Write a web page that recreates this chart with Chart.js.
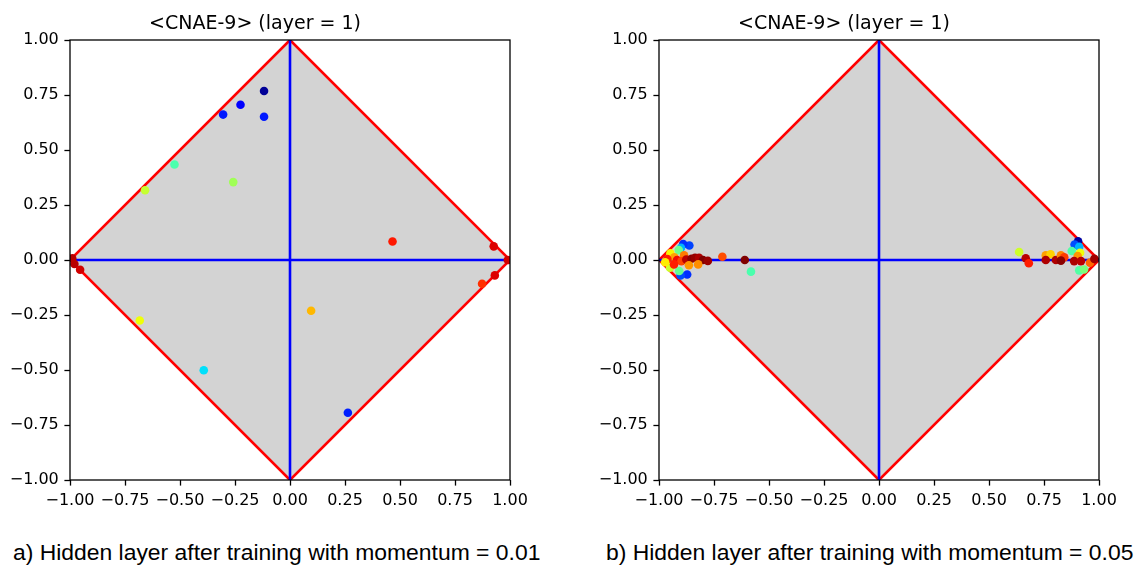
<!DOCTYPE html>
<html>
<head>
<meta charset="utf-8">
<script src="https://cdn.jsdelivr.net/npm/chart.js@4/dist/chart.umd.min.js"></script>
<style>
  html, body { margin: 0; padding: 0; background: #fff; }
  body { width: 1147px; height: 567px; position: relative; overflow: hidden; }
  .panel { position: absolute; top: 0; width: 550px; height: 520px; }
  .caption {
    position: absolute; top: 537px; white-space: nowrap; line-height: 30px;
    font-family: "Liberation Sans", Arial, sans-serif; font-size: 22.9px; color: #000;
  }
</style>
</head>
<body>
<div class="panel" style="left:0px"><canvas id="chartA"></canvas></div>
<div class="panel" style="left:589px"><canvas id="chartB"></canvas></div>
<div class="caption" style="left:13px">a) Hidden layer after training with momentum = 0.01</div>
<div class="caption" style="left:606px">b) Hidden layer after training with momentum = 0.05</div>
<script>
// Hidden-unit activations of the CNAE-9 network (layer 1), one point per sample.
// *_c is the colour value of each sample, mapped through the jet colormap.
const titleText = '<CNAE-9> (layer = 1)';
const tickValues = [-1, -0.75, -0.5, -0.25, 0, 0.25, 0.5, 0.75, 1];

// Region boundary |x| + |y| = 1 and the two axes through the origin
const diamondX = [0, 1, 0, -1, 0];
const diamondY = [1, 0, -1, 0, 1];
const hAxisX = [-1, 1], hAxisY = [0, 0];
const vAxisX = [0, 0], vAxisY = [-1, 1];

// momentum = 0.01
const a_x = [-0.118, -0.225, -0.304, -0.118, -0.525, -0.659, -0.258, 0.466, 0.926, 0.931,
             0.873, 0.096, -0.683, -0.392, 0.263, 0.990, -0.990, -0.980, -0.954];
const a_y = [0.768, 0.706, 0.661, 0.651, 0.434, 0.317, 0.354, 0.084, 0.062, -0.070,
             -0.108, -0.231, -0.275, -0.501, -0.694, 0.000, 0.008, -0.018, -0.044];
const a_c = [0.02, 0.11, 0.15, 0.15, 0.44, 0.59, 0.545, 0.885, 0.92, 0.92,
             0.86, 0.715, 0.64, 0.345, 0.155, 0.93, 0.95, 0.95, 0.93];

// momentum = 0.05
const b_x = [-0.862, -0.890, -0.900, -0.910, -0.948, -0.886, -0.930, -0.962, -0.918, -0.898,
             -0.876, -0.852, -0.836, -0.818, -0.800, -0.778, -0.712, -0.610, -0.582, -0.872,
             -0.902, -0.908, -0.950, -0.864, -0.822, -0.932, -0.972,
             0.637, 0.667, 0.681, 0.758, 0.780, 0.758, 0.804, 0.827, 0.842, 0.827,
             0.905, 0.889, 0.910, 0.876, 0.914, 0.903, 0.887, 0.918, 0.910, 0.932,
             0.959, 0.979];
const b_y = [0.066, 0.072, 0.056, 0.045, 0.030, 0.021, 0.012, 0.004, 0.000, -0.006,
             0.002, 0.006, 0.010, 0.010, 0.000, -0.004, 0.015, 0.000, -0.053, -0.066,
             -0.070, -0.050, -0.035, -0.024, -0.020, -0.020, -0.010,
             0.036, 0.008, -0.015, 0.021, 0.026, 0.000, 0.000, 0.021, 0.012, -0.003,
             0.085, 0.070, 0.060, 0.041, 0.033, 0.018, -0.005, -0.005, -0.047, -0.043,
             -0.012, 0.005];
const b_c = [0.19, 0.17, 0.30, 0.48, 0.65, 0.78, 0.74, 0.88, 0.90, 0.84,
             0.95, 0.99, 0.98, 0.96, 1.00, 0.98, 0.83, 1.00, 0.44, 0.17,
             0.20, 0.47, 0.60, 0.75, 0.76, 0.88, 0.66,
             0.60, 0.95, 0.88, 0.74, 0.69, 0.96, 0.96, 0.77, 0.85, 0.99,
             0.03, 0.20, 0.30, 0.45, 0.64, 0.75, 0.96, 0.95, 0.45, 0.50,
             0.80, 0.97];

// matplotlib "jet" segment data
function interp(segs, v) {
  for (let i = 1; i < segs.length; i++) {
    if (v <= segs[i][0]) {
      const [x0, y0] = segs[i - 1], [x1, y1] = segs[i];
      return y0 + (y1 - y0) * (v - x0) / (x1 - x0);
    }
  }
  return segs[segs.length - 1][1];
}
function jet(v) {
  v = Math.max(0, Math.min(1, v));
  const r = interp([[0, 0], [0.35, 0], [0.66, 1], [0.89, 1], [1, 0.5]], v);
  const g = interp([[0, 0], [0.125, 0], [0.375, 1], [0.64, 1], [0.91, 0], [1, 0]], v);
  const b = interp([[0, 0.5], [0.11, 1], [0.34, 1], [0.65, 0], [1, 0]], v);
  return `rgb(${Math.round(r * 255)},${Math.round(g * 255)},${Math.round(b * 255)})`;
}

const pts = (xs, ys) => xs.map((x, i) => ({ x, y: ys[i] }));
const fmt = v => (v < 0 ? '\u2212' : '') + Math.abs(v).toFixed(2);

// Full box frame drawn over the plot area
const framePlugin = {
  id: 'frame',
  afterDatasetsDraw(chart) {
    const { ctx, chartArea: a } = chart;
    ctx.save();
    ctx.strokeStyle = '#000';
    ctx.lineWidth = 1.3;
    ctx.strokeRect(a.left, a.top, a.right - a.left, a.bottom - a.top);
    ctx.restore();
  }
};

function axisOptions(isX) {
  return {
    type: 'linear', min: -1, max: 1,
    position: isX ? 'bottom' : 'left',
    afterBuildTicks: s => { s.ticks = tickValues.map(v => ({ value: v })); },
    afterFit: s => { if (isX) s.height = 40; else s.width = 70; },
    grid: { drawOnChartArea: false, drawTicks: true, tickLength: 5.6, tickWidth: 1.3, tickColor: '#000' },
    border: { display: false },
    ticks: {
      callback: v => fmt(v), color: '#000', padding: 5.6,
      font: { family: 'DejaVu Sans', size: 16 }, maxRotation: 0, autoSkip: false
    }
  };
}

function makeChart(id, xs, ys, cs) {
  new Chart(document.getElementById(id), {
    type: 'scatter',
    data: {
      datasets: [
        {
          data: pts(xs, ys),
          pointRadius: 4.3, pointHoverRadius: 4.3, pointBorderWidth: 0,
          pointBackgroundColor: cs.map(jet), showLine: false
        },
        {
          data: pts(hAxisX, hAxisY), showLine: true, pointRadius: 0,
          borderColor: '#0000ff', borderWidth: 2.6, fill: false
        },
        {
          data: pts(vAxisX, vAxisY), showLine: true, pointRadius: 0,
          borderColor: '#0000ff', borderWidth: 2.6, fill: false
        },
        {
          data: pts(diamondX, diamondY), showLine: true, pointRadius: 0,
          borderColor: '#ff0000', borderWidth: 2.6,
          backgroundColor: '#d3d3d3', fill: 'shape'
        }
      ]
    },
    options: {
      responsive: true, maintainAspectRatio: false, animation: false,
      layout: { padding: { left: 0, right: 40, top: 0, bottom: 0 } },
      scales: { x: axisOptions(true), y: axisOptions(false) },
      plugins: {
        legend: { display: false },
        tooltip: { enabled: false },
        title: {
          display: true, text: titleText, color: '#000',
          font: { family: 'DejaVu Sans', size: 19, weight: 'normal' },
          padding: { top: 13, bottom: 4.2 }
        }
      }
    },
    plugins: [framePlugin]
  });
}

makeChart('chartA', a_x, a_y, a_c);
makeChart('chartB', b_x, b_y, b_c);
</script>
</body>
</html>
